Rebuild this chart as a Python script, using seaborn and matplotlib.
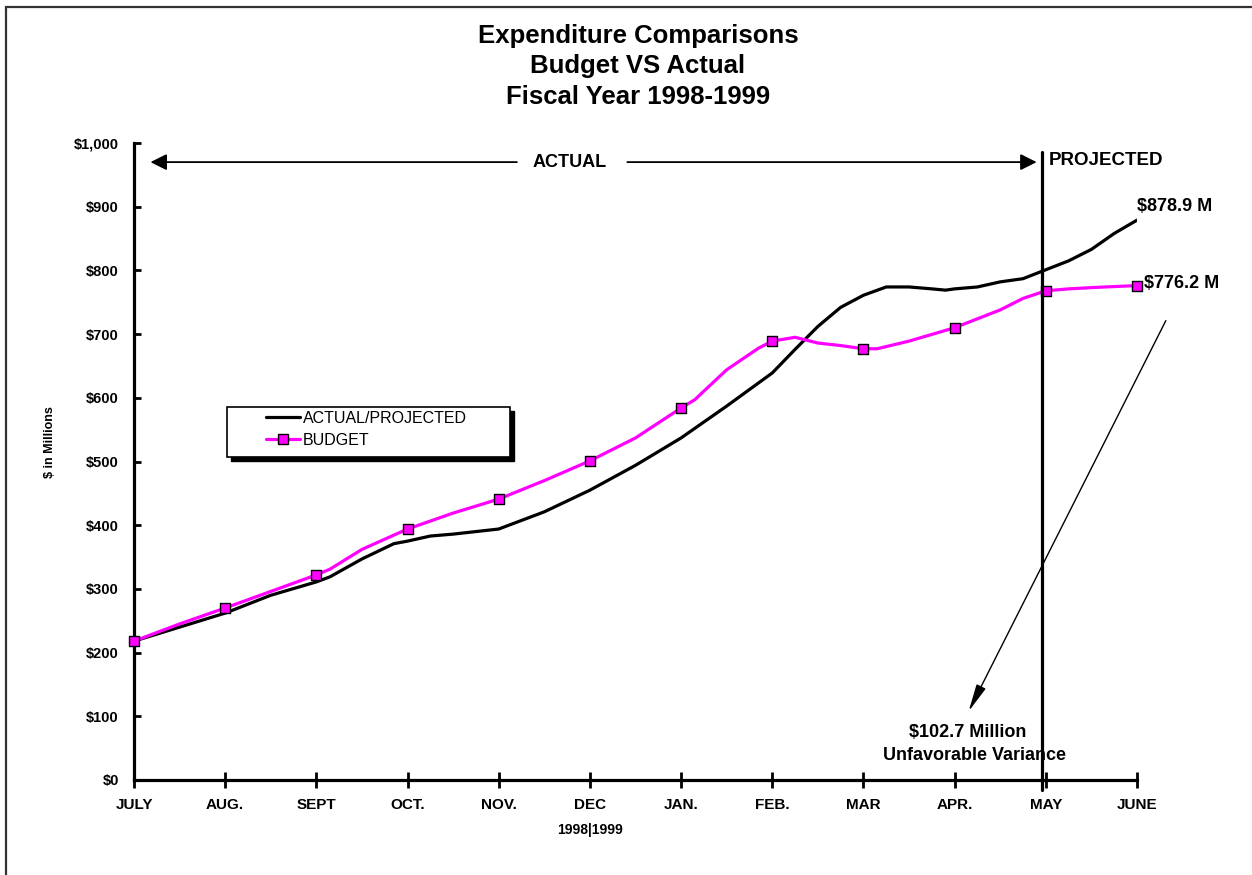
import matplotlib
matplotlib.use("Agg")
import matplotlib.pyplot as plt
from matplotlib.lines import Line2D
from matplotlib.patches import Rectangle
import numpy as np
import pandas as pd
import seaborn as sns

# ---- data -------------------------------------------------------------
months = ["JULY", "AUG.", "SEPT", "OCT.", "NOV.", "DEC", "JAN.", "FEB.",
          "MAR", "APR.", "MAY", "JUNE"]

# cumulative expenditure ($ millions), period = months since July
actual_period = [0, 0.5, 1, 1.5, 2, 2.15, 2.5, 2.85, 3, 3.25, 3.5, 4, 4.5,
                 5, 5.5, 6, 6.5, 7, 7.25, 7.5, 7.75, 8, 8.25, 8.5, 8.75,
                 8.9, 9, 9.25, 9.5, 9.75, 10, 10.25, 10.5, 10.75, 11]
actual_value = [218, 240, 262, 290, 311, 319, 347, 371, 375, 383, 386, 394,
                421, 455, 494, 537, 587, 639, 676, 712, 742, 761, 774, 774,
                771, 769, 771, 774, 782, 787, 801, 815, 833, 858, 878.9]

budget_period = [0, 0.5, 1, 1.5, 2, 2.15, 2.5, 3, 3.5, 3.75, 4, 4.5, 5,
                 5.5, 6, 6.15, 6.5, 6.85, 7, 7.25, 7.5, 7.75, 8, 8.15, 8.5,
                 9, 9.5, 9.75, 10, 10.25, 10.5, 11]
budget_value = [218, 245, 270, 296, 322, 331, 362, 394, 419, 430, 441, 470,
                501, 537, 584, 597, 644, 678, 689, 695, 686, 682, 677, 677,
                689, 710, 738, 756, 768, 771, 773, 776.2]

ytick_values = [0, 100, 200, 300, 400, 500, 600, 700, 800, 900, 1000]
ytick_labels = ["$0", "$100", "$200", "$300", "$400", "$500", "$600",
                "$700", "$800", "$900", "$1,000"]

projection_start = 9.96      # start of the projected period
variance_label = ["$102.7 Million", "Unfavorable Variance"]

actual_df = pd.DataFrame({"period": actual_period, "value": actual_value})
budget_df = pd.DataFrame({"period": budget_period, "value": budget_value})
budget_monthly = budget_df[budget_df["period"] % 1 == 0]

# ---- style ------------------------------------------------------------
sns.set_style("white")
plt.rcParams["font.family"] = ["Liberation Sans", "DejaVu Sans"]
plt.rcParams["text.color"] = "black"
plt.rcParams["axes.labelcolor"] = "black"
plt.rcParams["xtick.color"] = "black"
plt.rcParams["ytick.color"] = "black"

W, H = 1252, 875
fig = plt.figure(figsize=(W / 100, H / 100), dpi=100)
ax = fig.add_axes([134 / W, 1 - 780 / H, (1137 - 134) / W, (780 - 143) / H])

MAGENTA = "#FF00FF"

sns.lineplot(data=actual_df, x="period", y="value", ax=ax, color="black",
             lw=2.3, estimator=None, sort=False, zorder=3)
sns.lineplot(data=budget_df, x="period", y="value", ax=ax, color=MAGENTA,
             lw=2.3, estimator=None, sort=False, zorder=4)
sns.scatterplot(data=budget_monthly, x="period", y="value", ax=ax,
                marker="s", s=50, color=MAGENTA, edgecolor="black",
                linewidth=1.0, zorder=5, clip_on=False)

# ---- axes -------------------------------------------------------------
ax.set_xlim(0, 11)
ax.set_ylim(0, 1000)
ax.set_xticks(range(len(months)))
ax.set_xticklabels(months, fontsize=11, fontweight="bold")
ax.set_yticks(ytick_values)
ax.set_yticklabels(ytick_labels, fontsize=10.5, fontweight="bold")
ax.set_xlabel("")
ax.set_ylabel("")
for side in ("top", "right"):
    ax.spines[side].set_visible(False)
for side in ("left", "bottom"):
    ax.spines[side].set_linewidth(2.3)
    ax.spines[side].set_color("black")
ax.tick_params(axis="y", left=True, direction="in", length=5, width=2,
               pad=11, color="black", labelcolor="black")
ax.tick_params(axis="x", bottom=True, direction="inout", length=12, width=2,
               pad=7, color="black", labelcolor="black")
ax.set_facecolor("white")

# ---- period markers and annotations -----------------------------------
ax.plot([projection_start, projection_start], [986, -16], color="black",
        lw=2.3, clip_on=False, zorder=6)

arrow_kw = dict(arrowstyle="-|>,head_length=0.7,head_width=0.35",
                color="black", lw=1.3, mutation_scale=14)
ax.annotate("", xy=(0.15, 970), xytext=(4.23, 970),
            arrowprops=arrow_kw, annotation_clip=False)
ax.annotate("", xy=(9.93, 970), xytext=(5.38, 970),
            arrowprops=arrow_kw, annotation_clip=False)
ax.text(4.78, 970, "ACTUAL", ha="center", va="center", fontsize=13,
        fontweight="bold", clip_on=False)
ax.text(10.03, 973, "PROJECTED", ha="left", va="center", fontsize=13.5,
        fontweight="bold", clip_on=False)

ax.text(11.0, 900, f"${actual_value[-1]:.1f} M", ha="left", va="center",
        fontsize=13, fontweight="bold", clip_on=False)
ax.text(11.08, 780, f"${budget_value[-1]:.1f} M", ha="left", va="center",
        fontsize=13, fontweight="bold", clip_on=False)

ax.annotate("", xy=(9.14, 104), xytext=(11.33, 725),
            arrowprops=dict(arrowstyle="-|>,head_length=1.2,head_width=0.22",
                            color="black", lw=1.0, mutation_scale=14),
            annotation_clip=False)
ax.text(9.14, 75, variance_label[0], ha="center", va="center", fontsize=13,
        fontweight="bold", clip_on=False)
ax.text(9.22, 38, variance_label[1], ha="center", va="center", fontsize=13,
        fontweight="bold", clip_on=False)

# ---- titles and labels -----------------------------------------------
title_lines = ["Expenditure Comparisons", "Budget VS Actual",
               "Fiscal Year 1998-1999"]
for line, ypx in zip(title_lines, (36, 66, 97)):
    fig.text(638 / W, 1 - ypx / H, line, ha="center", va="center",
             fontsize=18.5, fontweight="bold")

fig.text(50 / W, 1 - 442 / H, "$ in Millions", rotation=90, ha="center",
         va="center", fontsize=9, fontweight="bold")
fig.text(590 / W, 1 - 830 / H, "1998|1999", ha="center", va="center",
         fontsize=10, fontweight="bold")

# ---- legend ----------------------------------------------------------
handles = [
    Line2D([], [], color="black", lw=2.3),
    Line2D([], [], color=MAGENTA, lw=2.3, marker="s", markersize=6.5,
           markerfacecolor=MAGENTA, markeredgecolor="black",
           markeredgewidth=1.0),
]
fig.legend(handles, ["ACTUAL/PROJECTED", "BUDGET"], loc="upper left",
           bbox_to_anchor=(266 / W, 1 - 411 / H), frameon=False,
           fontsize=11.5, handlelength=2.1, handletextpad=0.2,
           labelspacing=0.42, borderpad=0, borderaxespad=0)
# legend box with drop shadow
fig.add_artist(Rectangle((231 / W, 1 - 461 / H), 283 / W, 50 / H,
                         transform=fig.transFigure, facecolor="black",
                         edgecolor="black", zorder=1))
fig.add_artist(Rectangle((227 / W, 1 - 457 / H), 283 / W, 50 / H,
                         transform=fig.transFigure, facecolor="white",
                         edgecolor="black", lw=1.2, zorder=1.5))

# page frame
fig.add_artist(Rectangle((6 / W, -0.5), 1.5, 1.5 - 7 / H,
                         transform=fig.transFigure, fill=False,
                         edgecolor="#333333", lw=1.6))

fig.savefig("out.png", dpi=100, facecolor="white")
